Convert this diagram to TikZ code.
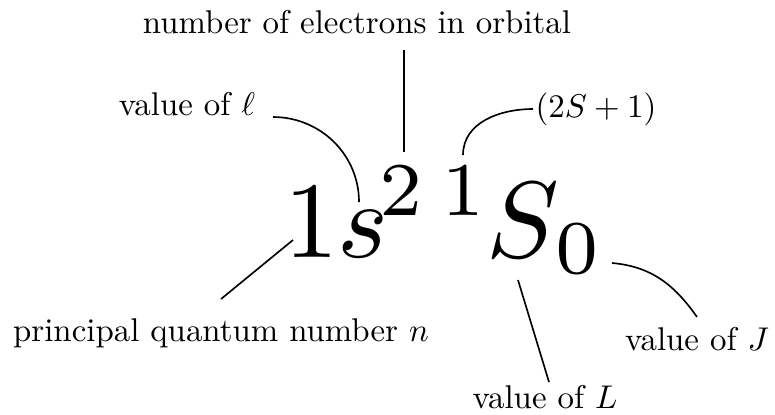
\documentclass[tikz,border=0pt]{standalone}
\usepackage{fix-cm}
\usepackage{graphicx}
\begin{document}
\begin{tikzpicture}[x=0.304pt,y=-0.304pt,
  lbl/.style={anchor=base,inner sep=0pt,font=\fontsize{10}{12}\selectfont},
  glyph/.style={anchor=base west,inner sep=0pt,font=\fontsize{10}{12}\selectfont},
  conn/.style={line width=0.5pt}]
\useasboundingbox (0,0) rectangle (775,414);
% symbol pieces (10pt math magnified 3.3 times)
\node[glyph] (one)  at (284,257) {\scalebox{3.3}{$1$}};
\node[glyph] (s)    at (337,257) {\scalebox{3.3}{$s$}};
\node[glyph] (two)  at (379,215) {\scalebox{3.3}{$\scriptstyle 2$}};
\node[glyph] (mult) at (441,215) {\scalebox{3.3}{$\scriptstyle 1$}};
\node[glyph] (S)    at (486,257) {\scalebox{3.3}{$S$}};
\node[glyph] (J0)   at (555,273) {\scalebox{3.3}{$\scriptstyle 0$}};
% labels
\node[lbl] (tn) at (357,33) {number of electrons in orbital};
\node[lbl] (tl) at (187,115) {value of $\ell$};
\node[lbl] (tm) at (596,117) {$(2S+1)$};
\node[lbl] (tp) at (221,341) {principal quantum number $n$};
\node[lbl] (tJ) at (697,350) {value of $J$};
\node[lbl] (tL) at (545,408) {value of $L$};
% connector end points
\coordinate (a1) at (221,299); \coordinate (a2) at (293,240);
\coordinate (b1) at (273,117); \coordinate (b2) at (359,202);
\coordinate (c1) at (404,50);  \coordinate (c2) at (404,152);
\coordinate (d1) at (463,155); \coordinate (d2) at (533,109);
\coordinate (e1) at (518,280); \coordinate (e2) at (549,382);
\coordinate (f1) at (612,263); \coordinate (f2) at (697,317);
\draw[conn] (a1) -- (a2);
\draw[conn] (b1) to[out=0,in=90] (b2);
\draw[conn] (c1) -- (c2);
\draw[conn] (d1) to[out=90,in=180] (d2);
\draw[conn] (e1) -- (e2);
\draw[conn] (f1) to[out=-5,in=125] (f2);
\end{tikzpicture}
\end{document}
